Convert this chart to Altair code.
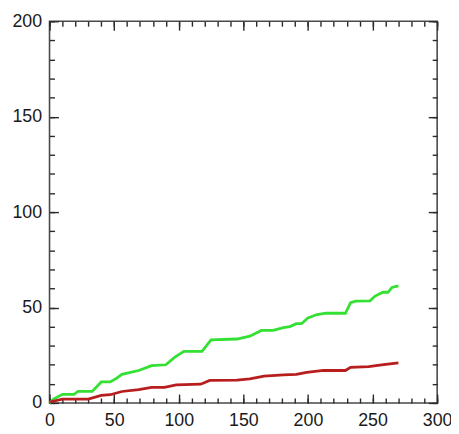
import altair as alt
import pandas as pd

# Data
green_x = [0, 3, 10, 19, 22, 33, 40, 47, 52, 56, 69, 79, 90, 97, 104, 118, 125, 145,
           155, 164, 173, 181, 186, 191, 195, 200, 207, 214, 229, 233, 237, 248, 252,
           258, 262, 265, 270]
green_y = [0, 2, 4.5, 4.5, 6, 6, 11, 11, 13, 15, 17, 19.5, 20, 24, 27, 27, 33, 33.5,
           35, 38, 38, 39.5, 40, 41.5, 41.5, 44.5, 46.3, 47, 47, 52.5, 53.3, 53.5, 56,
           58, 58, 60.5, 61.3]
red_x = [0, 10, 30, 40, 47, 56, 69, 79, 89, 98, 117, 124, 145, 155, 166, 181, 191,
         199, 212, 229, 233, 247, 257, 270]
red_y = [0.5, 2, 2, 4, 4.3, 6, 7, 8.2, 8.2, 9.5, 9.8, 11.8, 12, 12.6, 14, 14.7, 15,
         16, 17, 17, 18.7, 19, 20, 21]

x_major = [0, 50, 100, 150, 200, 250, 300]
x_minor = list(range(0, 301, 10))
y_major = [0, 50, 100, 150, 200]
y_minor = list(range(0, 201, 10))

series_names = ["green", "red"]
series_colors = ["#33e033", "#b81e1e"]

df = pd.concat([
    pd.DataFrame({"x": green_x, "y": green_y, "series": "green", "order": range(len(green_x))}),
    pd.DataFrame({"x": red_x, "y": red_y, "series": "red", "order": range(len(red_x))}),
], ignore_index=True)

xs = alt.Scale(domain=[0, 300], nice=False, zero=False)
ys = alt.Scale(domain=[0, 200], nice=False, zero=False)

FONT = "Liberation Sans"
TICK = "#2a2a2a"


def label_axis(orient, values, pad):
    return alt.Axis(orient=orient, values=values, ticks=False, domain=False, grid=False,
                    labelFont=FONT, labelFontSize=18, labelColor="#1a1a1a",
                    labelPadding=pad, labelFlush=False, labelOverlap=False, title=None)


def tick_axis(orient, values, size):
    return alt.Axis(orient=orient, values=values, labels=False, domain=False, grid=False,
                    ticks=True, tickSize=size, offset=-size, tickColor=TICK,
                    tickWidth=1.4, title=None)


def layer(xaxis, yaxis, visible):
    mark = alt.Chart(df).mark_line(strokeWidth=2.8, strokeOpacity=1 if visible else 0)
    return mark.encode(
        x=alt.X("x:Q", scale=xs, axis=xaxis),
        y=alt.Y("y:Q", scale=ys, axis=yaxis),
        color=alt.Color("series:N", scale=alt.Scale(domain=series_names, range=series_colors),
                        legend=None),
        order="order:Q",
    )


chart = alt.layer(
    layer(label_axis("bottom", x_major, 9), label_axis("left", y_major, 8), True),
    layer(tick_axis("bottom", x_major, 9), tick_axis("left", y_major, 9), False),
    layer(tick_axis("bottom", x_minor, 5), tick_axis("left", y_minor, 5), False),
    layer(tick_axis("top", x_major, 9), tick_axis("right", y_major, 9), False),
    layer(tick_axis("top", x_minor, 5), tick_axis("right", y_minor, 5), False),
).resolve_axis(x="independent", y="independent").properties(
    width=392, height=386,
    autosize=alt.AutoSizeParams(type="none"),
    padding={"left": 42, "top": 11, "right": 14, "bottom": 28},
).configure_view(stroke="#4a4a4a", strokeWidth=1.6)

chart.save("out.html", embed_options={"renderer": "svg", "actions": False})
